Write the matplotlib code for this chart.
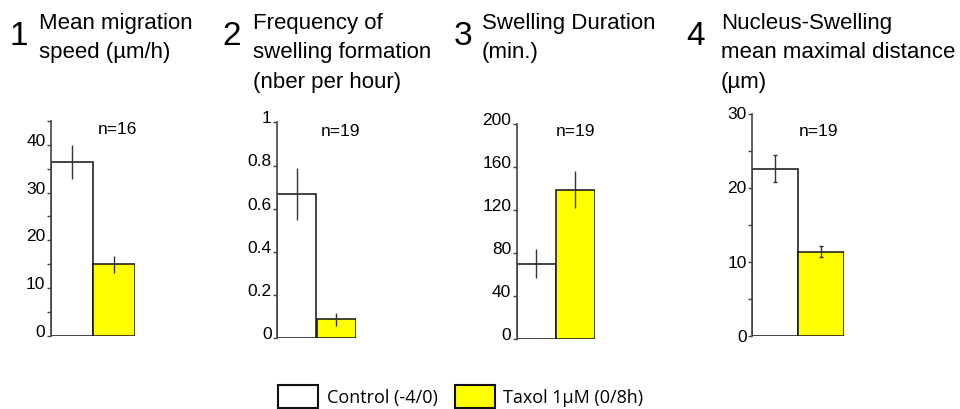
import matplotlib
matplotlib.use("Agg")
import matplotlib.pyplot as plt
from matplotlib.patches import Rectangle
from matplotlib.ticker import MultipleLocator

plt.rcParams['font.family'] = ['Liberation Sans', 'DejaVu Sans']

# values: (control, taxol) means and errors
groups = ['Control (-4/0)', 'Taxol 1µM (0/8h)']
colors = ['white', '#ffff00']

speed = [36.4, 15.0]
speed_err = [3.5, 1.8]
freq = [0.67, 0.088]
freq_err = [0.12, 0.03]
duration = [70, 139]
duration_err = [13.6, 17]
distance = [22.6, 11.4]
distance_err = [1.8, 0.75]

numbers = ['1', '2', '3', '4']
titles = ['Mean migration\nspeed (µm/h)',
          'Frequency of\nswelling formation\n(nber per hour)',
          'Swelling Duration\n(min.)',
          'Nucleus-Swelling\nmean maximal distance\n(µm)']
n_labels = ['n=16', 'n=19', 'n=19', 'n=19']

W, H = 960, 410
fig = plt.figure(figsize=(9.6, 4.1), dpi=100)


def px_axes(x0, x1, ytop, ybot):
    return fig.add_axes([x0 / W, 1 - ybot / H, (x1 - x0) / W, (ybot - ytop) / H])


panels = [
    # x0, x1, ytop, ybot, ymax, major, minor, ticklabels, vals, errs, n pos, label va
    (51, 135, 122, 336.7, 45, 10, 5, None, speed, speed_err, (0.79, 0.965), 'baseline'),
    (277.3, 355.7, 123.3, 339.3, 1, 0.2, None, ['0', '0.2', '0.4', '0.6', '0.8', '1'],
     freq, freq_err, (0.81, 0.96), 'baseline'),
    (516.7, 595, 125, 340, 200, 40, None, None, duration, duration_err, (0.757, 0.97), 'baseline'),
    (752.3, 844, 114.7, 337.3, 30, 10, 5, None, distance, distance_err, (0.72, 0.925), 'center'),
]

for i, (x0, x1, yt, yb, ymax, major, minor, tl, vals, errs, npos, va) in enumerate(panels):
    ax = px_axes(x0, x1, yt, yb)
    ax.bar([0, 1], vals, width=1.0, color=colors, edgecolor='#111111', linewidth=1.1)
    ax.errorbar([0, 1], vals, yerr=errs, fmt='none', ecolor='#333333', elinewidth=1.0,
                capsize=1.5 if i == 3 else 0)
    ax.set_xlim(-0.5, 1.5)
    ax.set_ylim(0, ymax)
    for s in ['top', 'right', 'bottom']:
        ax.spines[s].set_visible(False)
    ax.spines['left'].set_color('#444444')
    ax.spines['left'].set_linewidth(1.2)
    ax.set_xticks([])
    ax.yaxis.set_major_locator(MultipleLocator(major))
    if minor:
        ax.yaxis.set_minor_locator(MultipleLocator(minor))
    if tl is not None:
        ax.set_yticks([k * major for k in range(len(tl))])
        ax.set_yticklabels(tl)
    ax.tick_params(axis='y', which='both', length=3, width=1, pad=1,
                   labelsize=12.5, color='#444444')
    for lab in ax.get_yticklabels():
        lab.set_verticalalignment(va)
    ax.text(npos[0], npos[1], n_labels[i], transform=ax.transAxes,
            ha='center', va='center', fontsize=12.5)

# titles
num_x = [9, 222, 454, 686]
txt_x = [39, 253, 482, 721]
for i in range(4):
    fig.text(num_x[i] / W, 1 - 21 / H, numbers[i], fontsize=24, va='top', ha='left',
             fontweight='light')
    fig.text(txt_x[i] / W, 1 - 13 / H, titles[i], fontsize=16, va='top', ha='left',
             linespacing=1.52)

# legend
box_x = [278, 455]
lab_x = [327, 503]
for i in range(2):
    fig.patches.append(Rectangle((box_x[i] / W, 1 - 409 / H), 40 / W, 23 / H,
                                 transform=fig.transFigure, facecolor=colors[i],
                                 edgecolor='#111111', linewidth=1.5))
    fig.text(lab_x[i] / W, 1 - 398 / H, groups[i], fontsize=13, va='center', ha='left',
             family=['Open Sans', 'DejaVu Sans'])

fig.savefig('out.png', dpi=100)
